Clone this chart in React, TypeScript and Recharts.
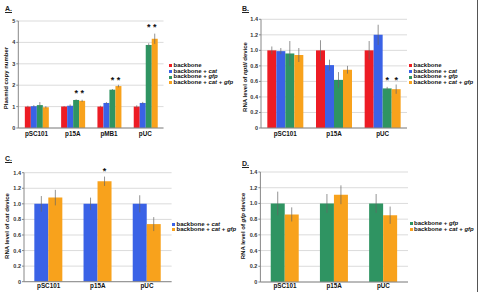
import React from 'react';
import { BarChart, Bar, XAxis, YAxis, CartesianGrid, ErrorBar, LabelList, Legend } from 'recharts';

const FONT = '"Liberation Sans", Arial, sans-serif';

const RED = '#ed1c24';
const BLUE = '#3a62e6';
const GREEN = '#2f9462';
const ORANGE = '#f8a21c';

// A. plasmid copy number
const copyCategories = ['pSC101', 'p15A', 'pMB1', 'pUC'];
const copyBackbone = [1.0, 1.0, 1.0, 1.0];
const copyBackboneErr = [0.04, 0.03, 0.04, 0.06];
const copyCat = [1.02, 1.04, 1.17, 1.17];
const copyCatErr = [0.05, 0.06, 0.04, 0.05];
const copyGfp = [1.07, 1.31, 1.79, 3.88];
const copyGfpErr = [0.14, 0.03, 0.03, 0.08];
const copyCatGfp = [0.97, 1.27, 1.96, 4.17];
const copyCatGfpErr = [0.05, 0.05, 0.06, 0.24];
const copyStars = [0, 1.7, 2.32, 4.77];

// B. nptII RNA level
const rnaCategories = ['pSC101', 'p15A', 'pUC'];
const nptBackbone = [1.0, 1.0, 1.0];
const nptBackboneErr = [0.05, 0.13, 0.12];
const nptCat = [0.99, 0.81, 1.2];
const nptCatErr = [0.04, 0.07, 0.13];
const nptGfp = [0.96, 0.62, 0.51];
const nptGfpErr = [0.16, 0.1, 0.02];
const nptCatGfp = [0.94, 0.75, 0.5];
const nptCatGfpErr = [0.09, 0.05, 0.06];
const nptStars = [0, 0, 0.64];

// C. cat RNA level
const catCat = [1.0, 1.0, 1.0];
const catCatErr = [0.1, 0.08, 0.11];
const catCatGfp = [1.08, 1.29, 0.74];
const catCatGfpErr = [0.1, 0.06, 0.09];
const catStars = [0, 1.44, 0];

// D. gfp RNA level
const gfpGfp = [1.0, 1.0, 1.0];
const gfpGfpErr = [0.15, 0.12, 0.12];
const gfpCatGfp = [0.86, 1.11, 0.85];
const gfpCatGfpErr = [0.09, 0.12, 0.11];

const copyTicks = [0, 1, 2, 3, 4, 5];
const rnaTicks = [0, 0.2, 0.4, 0.6, 0.8, 1.0, 1.2, 1.4];

const ITALIC_WORDS = ['cat', 'gfp', 'nptII'];

// splits a string so gene names come out in italics
const Rich = ({ text }) => (
  <>
    {text.split(/(\s+)/).map((w, i) =>
      ITALIC_WORDS.includes(w) ? <i key={i}>{w}</i> : <span key={i}>{w}</span>
    )}
  </>
);

const RichSvg = ({ text }) => (
  <>
    {text.split(/(\s+)/).map((w, i) => (
      <tspan key={i} fontStyle={ITALIC_WORDS.includes(w) ? 'italic' : 'normal'}>{w}</tspan>
    ))}
  </>
);

const AxisTitle = ({ tx, ty, text }) => (
  <text
    x={tx}
    y={ty}
    transform={`rotate(-90 ${tx} ${ty})`}
    textAnchor="middle"
    dominantBaseline="central"
    fontSize={6}
    fontWeight="bold"
    fill="#111"
    fontFamily={FONT}
    style={{ whiteSpace: 'pre' }}
  >
    <RichSvg text={text} />
  </text>
);

const makeLegend = (items) => () => (
  <div style={{ fontFamily: FONT, fontSize: 6, fontWeight: 'bold', color: '#111', lineHeight: '5.6px', whiteSpace: 'nowrap' }}>
    {items.map((it) => (
      <div key={it.name} style={{ display: 'flex', alignItems: 'center', height: 5.6 }}>
        <span style={{ display: 'inline-block', width: 3, height: 3, background: it.color, marginRight: 1.5 }} />
        <span><Rich text={it.name} /></span>
      </div>
    ))}
  </div>
);

// asterisk above a group; level is in data units, scale taken from the bar itself
const starLabel = (levels) => (props) => {
  const { x, y, width, height, value, index } = props;
  const level = levels[index];
  if (!level || !value) return null;
  const base = Number(y) + Number(height);
  const ppu = Number(height) / Number(value);
  const cy = base - level * ppu;
  return (
    <text key={`s${index}`} x={Number(x) + Number(width) / 2} y={cy + 4.4} textAnchor="middle" fontSize={9} fontWeight="bold" fill="#111" fontFamily={FONT}>
      *
    </text>
  );
};

const buildRows = (categories, series) =>
  categories.map((name, i) => {
    const row = { name };
    series.forEach((s) => {
      row[s.key] = s.values[i];
      row[`${s.key}Err`] = s.errors[i];
    });
    return row;
  });

const fmtRna = (v) => (v === 0 ? '0' : v.toFixed(1));

const Panel = ({ cfg }) => {
  const rows = buildRows(cfg.categories, cfg.series);
  return (
    <div style={{ position: 'absolute', left: cfg.left, top: cfg.top, width: cfg.width, height: cfg.height }}>
      <BarChart width={cfg.width} height={cfg.height} data={rows} margin={cfg.margin} barGap={0} barCategoryGap={cfg.gap}>
        <CartesianGrid vertical={false} stroke="#d2d2d2" strokeWidth={0.8} />
        <XAxis
          dataKey="name"
          height={cfg.xHeight}
          tickLine={false}
          tickSize={0}
          axisLine={{ stroke: '#888' }}
          tickMargin={cfg.xMargin}
          interval={0}
          tick={{ fontSize: 6.3, fontWeight: 'bold', fill: '#111', fontFamily: FONT }}
        />
        <YAxis
          width={cfg.yWidth}
          domain={[0, cfg.max]}
          ticks={cfg.ticks}
          interval={0}
          tickFormatter={cfg.fmt}
          axisLine={{ stroke: '#888' }}
          tickLine={{ stroke: '#888' }}
          tickSize={2}
          tickMargin={1}
          tick={{ fontSize: 5.5, fontWeight: 'bold', fill: '#333', fontFamily: FONT }}
          label={<AxisTitle tx={cfg.titlePos[0]} ty={cfg.titlePos[1]} text={cfg.title} />}
        />
        <Legend
          layout="vertical"
          align="center"
          verticalAlign="middle"
          wrapperStyle={{ left: cfg.legendPos[0], top: cfg.legendPos[1], width: 'auto', height: 'auto' }}
          content={makeLegend(cfg.series)}
        />
        {cfg.series.map((s) => (
          <Bar key={s.key} dataKey={s.key} name={s.name} fill={s.color} isAnimationActive={false}>
            <ErrorBar dataKey={`${s.key}Err`} width={0} stroke="#666" strokeWidth={0.7} direction="y" />
            {s.star && <LabelList dataKey={s.key} content={starLabel(cfg.stars)} />}
          </Bar>
        ))}
      </BarChart>
    </div>
  );
};

const panels = [
  {
    letter: 'A.', left: 0, top: 0, width: 240, height: 146,
    margin: { top: 21, right: 76.5, bottom: 0, left: 0 },
    yWidth: 18.3, xHeight: 18, xMargin: 4, gap: '18%',
    max: 5, ticks: copyTicks, fmt: (v) => String(v),
    categories: copyCategories, stars: copyStars,
    title: 'Plasmid copy number', titlePos: [6, 78],
    legendPos: [169, 63.2], letterPos: [5, 5],
    series: [
      { key: 'bb', name: 'backbone', color: RED, values: copyBackbone, errors: copyBackboneErr },
      { key: 'cat', name: 'backbone + cat', color: BLUE, values: copyCat, errors: copyCatErr },
      { key: 'gfp', name: 'backbone + gfp', color: GREEN, values: copyGfp, errors: copyGfpErr, star: true },
      { key: 'catgfp', name: 'backbone + cat + gfp', color: ORANGE, values: copyCatGfp, errors: copyCatGfpErr, star: true },
    ],
  },
  {
    letter: 'B.', left: 240, top: 0, width: 239, height: 146,
    margin: { top: 19.3, right: 72, bottom: 0, left: 0 },
    yWidth: 21, xHeight: 18, xMargin: 4, gap: '13%',
    max: 1.4, ticks: rnaTicks, fmt: fmtRna,
    categories: rnaCategories, stars: nptStars,
    title: 'RNA level of nptII device', titlePos: [5, 77],
    legendPos: [169, 63.2], letterPos: [2, 5],
    series: [
      { key: 'bb', name: 'backbone', color: RED, values: nptBackbone, errors: nptBackboneErr },
      { key: 'cat', name: 'backbone + cat', color: BLUE, values: nptCat, errors: nptCatErr },
      { key: 'gfp', name: 'backbone + gfp', color: GREEN, values: nptGfp, errors: nptGfpErr, star: true },
      { key: 'catgfp', name: 'backbone + cat + gfp', color: ORANGE, values: nptCatGfp, errors: nptCatGfpErr, star: true },
    ],
  },
  {
    letter: 'C.', left: 0, top: 146, width: 240, height: 146,
    margin: { top: 26.7, right: 68.4, bottom: 0, left: 0 },
    yWidth: 24, xHeight: 10.3, xMargin: 2, gap: '21%',
    max: 1.4, ticks: rnaTicks, fmt: fmtRna,
    categories: rnaCategories, stars: catStars,
    title: 'RNA level of cat device', titlePos: [7, 80],
    legendPos: [172, 75.5], letterPos: [5, 9],
    series: [
      { key: 'cat', name: 'backbone + cat', color: BLUE, values: catCat, errors: catCatErr },
      { key: 'catgfp', name: 'backbone + cat + gfp', color: ORANGE, values: catCatGfp, errors: catCatGfpErr, star: true },
    ],
  },
  {
    letter: 'D.', left: 240, top: 146, width: 239, height: 146,
    margin: { top: 26, right: 71, bottom: 0, left: 0 },
    yWidth: 20.4, xHeight: 10, xMargin: 2, gap: '21%',
    max: 1.4, ticks: rnaTicks, fmt: fmtRna,
    categories: rnaCategories, stars: [0, 0, 0],
    title: 'RNA level of gfp device', titlePos: [2.5, 80],
    legendPos: [169.5, 75.2], letterPos: [2, 14],
    series: [
      { key: 'gfp', name: 'backbone + gfp', color: GREEN, values: gfpGfp, errors: gfpGfpErr },
      { key: 'catgfp', name: 'backbone + cat + gfp', color: ORANGE, values: gfpCatGfp, errors: gfpCatGfpErr },
    ],
  },
];

export default function App() {
  return (
    <div style={{ position: 'absolute', left: 0, top: 0, width: 479, height: 292, background: '#fff', fontFamily: FONT, overflow: 'hidden' }}>
      {panels.map((p) => (
        <React.Fragment key={p.letter}>
          <Panel cfg={p} />
          <div
            style={{
              position: 'absolute',
              left: p.left + p.letterPos[0],
              top: p.top + p.letterPos[1],
              fontSize: 7,
              fontWeight: 'bold',
              textDecoration: 'underline',
              color: '#222',
            }}
          >
            {p.letter}
          </div>
        </React.Fragment>
      ))}
      <div style={{ position: 'absolute', left: 476.5, top: 0, width: 1, height: 292, background: '#555' }} />
    </div>
  );
}
